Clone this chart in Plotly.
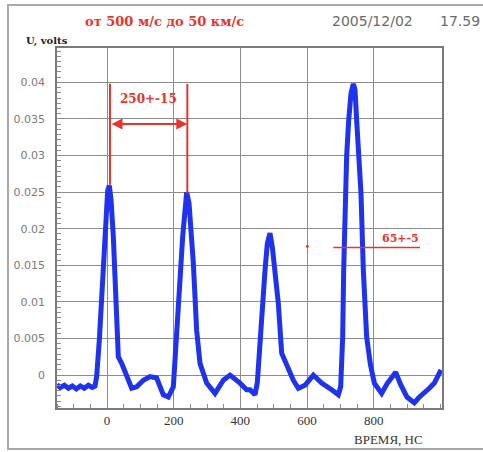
import plotly.graph_objects as go

# ---- data ----
time_ns = [-150, -140, -128, -116, -104, -92, -80, -68, -56, -44, -36, -31,
           -23, -16, -11, -4, 2, 7, 12, 19, 24, 29, 34, 44, 59, 74, 89, 109,
           129, 149, 169, 184, 199, 209, 219, 227, 234, 239, 246, 254, 259,
           269, 279, 299, 324, 349, 369, 399, 419, 429, 444, 451, 459, 467,
           474, 481, 489, 496, 504, 514, 524, 544, 559, 574, 594, 619, 644,
           674, 694, 701, 707, 710, 714, 719, 725, 732, 739, 744, 749, 756,
           762, 769, 779, 790, 802, 824, 840, 866, 880, 900, 922, 935, 952,
           967, 982, 1002]
volts = [-0.0013, -0.0017, -0.0014, -0.0018, -0.0015, -0.0019, -0.0015,
         -0.0018, -0.0014, -0.0017, -0.0015, -0.0002,
         0.0048, 0.0107, 0.0170, 0.0225, 0.0252, 0.0259, 0.0240, 0.0189,
         0.0140, 0.0080, 0.0025, 0.0016, -0.0002, -0.0018, -0.0016, -0.0007,
         -0.0002, -0.0004, -0.0027, -0.0030, -0.0016, 0.0048, 0.0130, 0.0189,
         0.0235, 0.0250, 0.0235, 0.0189, 0.0153,
         0.0061, 0.0016, -0.0011, -0.0025, -0.0007, 0.0000, -0.0011, -0.0020,
         -0.0020, -0.0027, -0.0010, 0.0052, 0.0100,
         0.0143, 0.0180, 0.0194, 0.0175, 0.0143, 0.0098, 0.0030, 0.0007,
         -0.0007, -0.0018, -0.0014, 0.0000, -0.0011,
         -0.0020, -0.0027, -0.0016, 0.0052, 0.0143, 0.0248, 0.0300, 0.0348,
         0.0385, 0.0398, 0.0390, 0.0348, 0.0300,
         0.0248, 0.0143, 0.0052, 0.0015, -0.0011, -0.0025, -0.0012, 0.0004,
         -0.0012, -0.0030, -0.0038, -0.0031, -0.0025,
         -0.0018, -0.0011, 0.0007]

x_tick_vals = [0, 200, 400, 600, 800]
x_tick_text = ["0", "200", "400", "600", "800"]
y_tick_vals = [0, 0.005, 0.01, 0.015, 0.02, 0.025, 0.03, 0.035, 0.04]
y_tick_text = ["0", "0.005", "0.01", "0.015", "0.02", "0.025", "0.03", "0.035", "0.04"]

# annotation marks (data coordinates)
period_t = [9, 241]
period_top = 0.0398
period_bottom = [0.0260, 0.0248]
period_arrow_u = 0.0343
period_label = "250+-15"
width_line_t = [679, 939]
width_line_u = 0.01742
width_label = "65+-5"
dot_t = [601]
dot_u = [0.0176]

title_text = "от 500 м/с до 50 км/с"
date_text = "2005/12/02"
time_text = "17.59"
y_title = "U, volts"
x_title = "ВРЕМЯ, НС"

# ---- layout geometry ----
W, H = 483, 452
L, R, T, B = 57, 41, 48, 44
PW, PH = W - L - R, H - T - B


def px(x):
    return (x - L) / PW


def py(y):
    return (H - B - y) / PH


RED = "#e6352c"
BLUE = "#1f33ee"

fig = go.Figure()
fig.add_trace(go.Scatter(x=time_ns, y=volts, mode="lines",
                         line=dict(color=BLUE, width=5),
                         hoverinfo="skip", showlegend=False))
fig.add_trace(go.Scatter(x=dot_t, y=dot_u, mode="markers",
                         marker=dict(color=RED, size=3),
                         hoverinfo="skip", showlegend=False))

shapes = []
for t, ub in zip(period_t, period_bottom):
    shapes.append(dict(type="line", xref="x", yref="y", x0=t, x1=t,
                       y0=period_top, y1=ub, line=dict(color=RED, width=2)))
shapes.append(dict(type="line", xref="x", yref="y", x0=width_line_t[0],
                   x1=width_line_t[1], y0=width_line_u, y1=width_line_u,
                   line=dict(color=RED, width=1.5)))
# outer frame of the picture
shapes.append(dict(type="rect", xref="paper", yref="paper",
                   x0=px(8), x1=px(490), y0=py(449), y1=py(5),
                   line=dict(color="#a8a8a8", width=2), layer="below"))

annotations = [
    dict(x=period_t[1], y=period_arrow_u, ax=period_t[0], ay=period_arrow_u,
         xref="x", yref="y", axref="x", ayref="y", text="", showarrow=True,
         arrowside="end+start", arrowhead=2, arrowsize=1.1, arrowwidth=2,
         arrowcolor=RED),
    dict(x=(period_t[0] + period_t[1]) / 2, y=0.0377, xref="x", yref="y",
         text="<b>" + period_label + "</b>", showarrow=False,
         font=dict(family="DejaVu Serif", size=12, color=RED)),
    dict(x=880, y=0.0186, xref="x", yref="y", text="<b>" + width_label + "</b>",
         showarrow=False, font=dict(family="DejaVu Serif", size=11, color=RED)),
    dict(x=px(83), y=py(21), xref="paper", yref="paper", xanchor="left",
         yanchor="middle", text="<b>" + title_text + "</b>", showarrow=False,
         font=dict(family="DejaVu Serif", size=13, color=RED)),
    dict(x=px(330), y=py(21), xref="paper", yref="paper", xanchor="left",
         yanchor="middle", text=date_text, showarrow=False,
         font=dict(family="DejaVu Sans", size=14, color="#6a6a6a")),
    dict(x=px(438), y=py(21), xref="paper", yref="paper", xanchor="left",
         yanchor="middle", text=time_text, showarrow=False,
         font=dict(family="DejaVu Sans", size=14, color="#6a6a6a")),
    dict(x=px(24), y=py(41), xref="paper", yref="paper", xanchor="left",
         yanchor="middle", text="<b>" + y_title + "</b>", showarrow=False,
         font=dict(family="DejaVu Serif", size=10, color="#222222")),
    dict(x=px(352), y=py(440), xref="paper", yref="paper", xanchor="left",
         yanchor="middle", text=x_title, showarrow=False,
         font=dict(family="Liberation Serif", size=13, color="#333333")),
]

fig.update_layout(
    width=W, height=H,
    margin=dict(l=L, r=R, t=T, b=B, pad=0),
    paper_bgcolor="white", plot_bgcolor="white",
    shapes=shapes, annotations=annotations, showlegend=False,
    xaxis=dict(range=[-150, 1005], tickvals=x_tick_vals, ticktext=x_tick_text,
               showgrid=True, gridcolor="#8c8c8c", gridwidth=1,
               zeroline=False, showline=True, linecolor="#7a7a7a", linewidth=1.5,
               mirror=True, ticks="", automargin=False,
               tickfont=dict(family="Liberation Serif", size=13, color="#333333"),
               minor=dict(dtick=50, tick0=0, ticks="inside", ticklen=4,
                          tickcolor="#8c8c8c", showgrid=False)),
    yaxis=dict(range=[-0.0045, 0.0447], tickvals=y_tick_vals, ticktext=y_tick_text,
               showgrid=True, gridcolor="#8c8c8c", gridwidth=1,
               zeroline=False, showline=True, linecolor="#7a7a7a", linewidth=1.5,
               mirror=True, ticks="", ticklabelstandoff=8, automargin=False,
               tickfont=dict(family="DejaVu Sans", size=11, color="#7a7a7a"),
               minor=dict(dtick=0.005 / 7, tick0=0, ticks="inside", ticklen=4,
                          tickcolor="#8c8c8c", showgrid=False)),
)

fig.write_html("out.html",
               config={"displayModeBar": False},
               post_script="document.body.style.margin='0px';"
                           "document.body.style.overflow='hidden';")
